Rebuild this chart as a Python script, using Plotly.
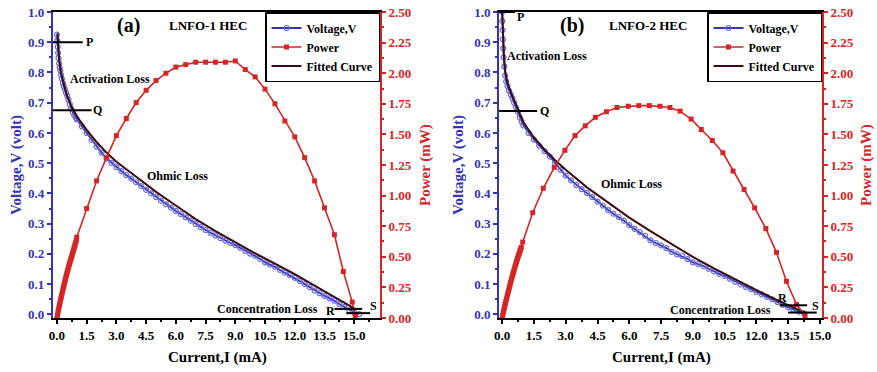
import plotly.graph_objects as go

# ---------------- data: panel (a) LNFO-1 HEC ----------------
a_current_v = [0.00, 0.02, 0.04, 0.06, 0.08, 0.11, 0.14, 0.17, 0.21, 0.25, 0.30, 0.35, 0.40, 0.46,
               0.52, 0.58, 0.65, 0.72, 0.80, 0.88, 0.96,
               1.00, 1.25, 1.50, 1.75, 2.00, 2.25, 2.50, 2.75, 3.00, 3.25, 3.50, 3.75, 4.00, 4.25,
               4.50, 4.75, 5.00, 5.25, 5.50, 5.75, 6.00, 6.25, 6.50, 6.75, 7.00, 7.25, 7.50, 7.75,
               8.00, 8.25, 8.50, 8.75, 9.00, 9.25, 9.50, 9.75, 10.00, 10.25, 10.50, 10.75, 11.00,
               11.25, 11.50, 11.75, 12.00, 12.25, 12.50, 12.75, 13.00, 13.25, 13.50, 13.75, 14.00,
               14.25, 14.50, 14.75, 15.00, 15.25]
a_voltage = [0.925, 0.905, 0.885, 0.865, 0.848, 0.830, 0.817, 0.806, 0.792, 0.779, 0.765, 0.754,
             0.744, 0.733, 0.722, 0.710, 0.695, 0.680, 0.668, 0.658, 0.650,
             0.645, 0.622, 0.600, 0.577, 0.555, 0.535, 0.516, 0.501, 0.487, 0.474, 0.461, 0.449,
             0.437, 0.424, 0.412, 0.400, 0.388, 0.376, 0.364, 0.353, 0.342, 0.332, 0.321, 0.310,
             0.299, 0.289, 0.279, 0.270, 0.261, 0.252, 0.244, 0.236, 0.229, 0.220, 0.210, 0.201,
             0.194, 0.184, 0.172, 0.165, 0.157, 0.147, 0.138, 0.130, 0.121, 0.110, 0.100, 0.090,
             0.079, 0.070, 0.061, 0.053, 0.045, 0.034, 0.024, 0.014, 0.006, 0.001]

a_current_p = [0.000, 0.025, 0.050, 0.075, 0.100, 0.125, 0.150, 0.175, 0.200, 0.225, 0.250,
               0.275, 0.300, 0.325, 0.350, 0.375, 0.400, 0.425, 0.450, 0.475, 0.500, 0.525,
               0.550, 0.575, 0.600, 0.625, 0.650, 0.675, 0.700, 0.725, 0.750, 0.775, 0.800,
               0.825, 0.850, 0.875, 0.900, 0.925, 0.950, 0.975,
               1.0, 1.5, 2.0, 2.5, 3.0, 3.5, 4.0, 4.5, 5.0, 5.5, 6.0, 6.5, 7.0, 7.5, 8.0, 8.5, 9.0,
               9.5, 10.0, 10.5, 11.0, 11.5, 12.0, 12.5, 13.0, 13.5, 14.0, 14.45, 14.9, 15.05]
a_power = [0.000, 0.023, 0.044, 0.064, 0.084, 0.103, 0.122, 0.141, 0.159, 0.177, 0.195, 0.212,
           0.230, 0.247, 0.264, 0.281, 0.298, 0.314, 0.331, 0.347, 0.363, 0.379, 0.394, 0.409,
           0.424, 0.438, 0.452, 0.466, 0.479, 0.493, 0.507, 0.521, 0.534, 0.549, 0.563, 0.577,
           0.590, 0.604, 0.619, 0.632,
           0.66, 0.895, 1.12, 1.31, 1.49, 1.63, 1.76, 1.86, 1.94, 2.00, 2.05, 2.07, 2.09, 2.09,
           2.09, 2.09, 2.10, 2.03, 1.97, 1.87, 1.75, 1.61, 1.48, 1.31, 1.12, 0.90, 0.68, 0.38,
           0.13, 0.02]

a_current_fit = [0.03, 0.10, 0.20, 0.35, 0.50, 0.75, 1.0, 1.5, 2.0, 2.5, 3.0, 4.0, 5.0, 6.0, 7.0,
                 8.0, 9.0, 10.0, 11.0, 12.0, 13.0, 14.0, 14.6, 15.0]
a_fit = [0.93, 0.85, 0.80, 0.76, 0.725, 0.685, 0.655, 0.61, 0.57, 0.535, 0.505, 0.455, 0.405,
         0.36, 0.315, 0.275, 0.238, 0.202, 0.168, 0.133, 0.095, 0.057, 0.035, 0.02]

# ---------------- data: panel (b) LNFO-2 HEC ----------------
b_current_v = [0.00, 0.01, 0.02, 0.03, 0.05, 0.07, 0.10, 0.14, 0.19, 0.25, 0.32, 0.40, 0.48, 0.56,
               0.65, 0.74, 0.83, 0.92,
               1.00, 1.25, 1.50, 1.75, 2.00, 2.25, 2.50, 2.75, 3.00, 3.25, 3.50, 3.75, 4.00, 4.25,
               4.50, 4.75, 5.00, 5.25, 5.50, 5.75, 6.00, 6.25, 6.50, 6.75, 7.00, 7.25, 7.50, 7.75,
               8.00, 8.25, 8.50, 8.75, 9.00, 9.25, 9.50, 9.75, 10.00, 10.25, 10.50, 10.75, 11.00,
               11.25, 11.50, 11.75, 12.00, 12.25, 12.50, 12.75, 13.00, 13.25, 13.50, 13.75, 14.00,
               14.25]
b_voltage = [1.00, 0.97, 0.94, 0.91, 0.88, 0.85, 0.82, 0.79, 0.77, 0.755, 0.74, 0.728, 0.715, 0.70,
             0.685, 0.67, 0.652, 0.638,
             0.625, 0.600, 0.578, 0.558, 0.540, 0.522, 0.500, 0.478, 0.459, 0.443, 0.428, 0.414,
             0.401, 0.388, 0.373, 0.360, 0.345, 0.333, 0.322, 0.310, 0.295, 0.283, 0.272, 0.260,
             0.245, 0.236, 0.228, 0.219, 0.207, 0.199, 0.193, 0.183, 0.172, 0.166, 0.160, 0.151,
             0.142, 0.134, 0.127, 0.118, 0.108, 0.099, 0.091, 0.083, 0.074, 0.066, 0.058, 0.050,
             0.041, 0.032, 0.023, 0.016, 0.009, 0.003]

b_current_p = [0.000, 0.025, 0.050, 0.075, 0.100, 0.125, 0.150, 0.175, 0.200, 0.225, 0.250,
               0.275, 0.300, 0.325, 0.350, 0.375, 0.400, 0.425, 0.450, 0.475, 0.500, 0.525,
               0.550, 0.575, 0.600, 0.625, 0.650, 0.675, 0.700, 0.725, 0.750, 0.775, 0.800,
               0.825, 0.850, 0.875, 0.900,
               0.97, 1.44, 1.94, 2.46, 2.96, 3.44, 3.92, 4.40, 4.92, 5.42, 5.95, 6.45, 6.95, 7.45,
               7.92, 8.40, 8.92, 9.40, 9.92, 10.42, 10.90, 11.42, 11.92, 12.45, 12.95, 13.42,
               13.90, 14.30]
b_power = [0.000, 0.023, 0.044, 0.063, 0.082, 0.100, 0.118, 0.136, 0.154, 0.171, 0.189, 0.206,
           0.223, 0.240, 0.257, 0.275, 0.291, 0.308, 0.324, 0.340, 0.356, 0.371, 0.386, 0.401,
           0.416, 0.431, 0.445, 0.460, 0.474, 0.487, 0.501, 0.514, 0.526, 0.539, 0.552, 0.564,
           0.577,
           0.62, 0.86, 1.06, 1.23, 1.37, 1.49, 1.57, 1.64, 1.685, 1.72, 1.73, 1.735, 1.735, 1.73,
           1.72, 1.69, 1.625, 1.54, 1.45, 1.35, 1.20, 1.05, 0.90, 0.73, 0.536, 0.30, 0.11, 0.02]

b_current_fit = [0.0, 0.03, 0.08, 0.15, 0.25, 0.40, 0.60, 0.80, 1.0, 1.5, 2.0, 2.5, 3.0, 4.0, 5.0,
                 6.0, 7.0, 8.0, 9.0, 10.0, 11.0, 12.0, 13.0, 13.5, 14.0, 14.3]
b_fit = [1.0, 0.93, 0.86, 0.80, 0.765, 0.735, 0.70, 0.665, 0.635, 0.585, 0.545, 0.51, 0.478, 0.42,
         0.37, 0.32, 0.275, 0.232, 0.19, 0.152, 0.115, 0.08, 0.046, 0.03, 0.015, 0.006]

# tick values
volt_ticks = [0.0, 0.1, 0.2, 0.3, 0.4, 0.5, 0.6, 0.7, 0.8, 0.9, 1.0]
power_ticks = [0.0, 0.25, 0.5, 0.75, 1.0, 1.25, 1.5, 1.75, 2.0, 2.25, 2.5]

BLUE = "#3434b4"
RED = "#d42626"
FIT = "#3c0c10"
FONT = "Liberation Serif"

fig = go.Figure()


def add_panel(xa, ya, ya2, legend, cur_v, volt, cur_p, powr, cur_f, fit):
    fig.add_trace(go.Scatter(
        x=cur_v, y=volt, name="Voltage,V", mode="lines+markers", xaxis=xa, yaxis=ya,
        line=dict(color=BLUE, width=1.8),
        marker=dict(symbol="circle-open", size=5, color="#6a6ad6", line=dict(width=1.2)),
        legend=legend))
    fig.add_trace(go.Scatter(
        x=cur_p, y=powr, name="Power", mode="lines+markers", xaxis=xa, yaxis=ya2,
        line=dict(color=RED, width=1.6),
        marker=dict(symbol="square", size=5, color=RED),
        legend=legend))
    fig.add_trace(go.Scatter(
        x=cur_f, y=fit, name="Fitted Curve", mode="lines", xaxis=xa, yaxis=ya,
        line=dict(color=FIT, width=2), legend=legend))


# draw order: voltage, power, fit on each panel
add_panel("x", "y", "y2", "legend", a_current_v, a_voltage, a_current_p, a_power,
          a_current_fit, a_fit)
add_panel("x2", "y3", "y4", "legend2", b_current_v, b_voltage, b_current_p, b_power,
          b_current_fit, b_fit)

# plot-area domains
Y_DOM = [0.1452, 0.9677]
XA_DOM = [0.0604, 0.4333]
XB_DOM = [0.569, 0.9373]

tickfont_b = dict(family=FONT, size=13, color=BLUE, weight="bold")
tickfont_r = dict(family=FONT, size=13, color=RED, weight="bold")
tickfont_k = dict(family=FONT, size=13, color="black", weight="bold")


def xaxis_cfg(dom, rng, anchor):
    return dict(domain=dom, range=rng, anchor=anchor, tick0=0, dtick=1.5, tickformat=".1f",
                showline=True, linecolor="black", linewidth=2, mirror=True,
                ticks="outside", ticklen=4, tickwidth=1.5, tickcolor="black",
                minor=dict(dtick=0.75, ticks="outside", ticklen=2, tickcolor="black"),
                showgrid=False, zeroline=False, tickfont=tickfont_k, automargin=False)


def yleft_cfg(anchor):
    return dict(domain=Y_DOM, anchor=anchor, range=[-0.012, 1.0], tickvals=volt_ticks,
                tickformat=".1f", showline=True, linecolor=BLUE, linewidth=2,
                ticks="outside", ticklen=4, tickwidth=1.5, tickcolor=BLUE,
                minor=dict(dtick=0.05, ticks="outside", ticklen=2, tickcolor=BLUE),
                showgrid=False, zeroline=False, tickfont=tickfont_b, automargin=False)


def yright_cfg(anchor, over):
    return dict(anchor=anchor, overlaying=over, side="right", range=[0, 2.5],
                tickvals=power_ticks, tickformat=".2f", showline=True, linecolor=RED,
                linewidth=2, ticks="outside", ticklen=4, tickwidth=1.5, tickcolor=RED,
                minor=dict(dtick=0.125, ticks="outside", ticklen=2, tickcolor=RED),
                showgrid=False, zeroline=False, tickfont=tickfont_r, automargin=False)


leg_common = dict(xanchor="right", yanchor="top", bgcolor="white", bordercolor="black",
                  borderwidth=1.5, font=dict(family=FONT, size=12, color="black", weight="bold"),
                  tracegroupgap=0, itemwidth=30)

fig.update_layout(
    width=877, height=372, margin=dict(l=0, r=0, t=0, b=0, autoexpand=False),
    paper_bgcolor="white", plot_bgcolor="white", showlegend=True,
    xaxis=xaxis_cfg(XA_DOM, [-0.2, 16.3], "y"),
    yaxis=yleft_cfg("x"),
    yaxis2=yright_cfg("x", "y"),
    xaxis2=xaxis_cfg(XB_DOM, [-0.15, 15.1], "y3"),
    yaxis3=yleft_cfg("x2"),
    yaxis4=yright_cfg("x2", "y3"),
    legend=dict(leg_common, x=XA_DOM[1], y=Y_DOM[1]),
    legend2=dict(leg_common, x=XB_DOM[1], y=Y_DOM[1]),
)

# loss-region markers (P, Q, R, S) on both panels
marks = [
    # xref, yref, x0, x1, y
    ("x", "y", -0.2, 1.3, 0.90), ("x", "y", -0.2, 1.75, 0.675),
    ("x", "y", 14.0, 15.4, 0.018), ("x", "y", 14.6, 15.8, 0.004),
    ("x2", "y3", -0.15, 0.6, 1.0), ("x2", "y3", -0.15, 1.65, 0.673),
    ("x2", "y3", 13.1, 14.4, 0.030), ("x2", "y3", 13.5, 14.85, 0.006),
]
for xr, yr, x0, x1, yv in marks:
    fig.add_shape(type="line", xref=xr, yref=yr, x0=x0, x1=x1, y0=yv, y1=yv,
                  line=dict(color="black", width=2))

lbl = dict(family=FONT, size=12, color="black", weight="bold")
texts = [
    ("x", "y", 1.65, 0.90, "P"), ("x", "y", 2.05, 0.675, "Q"),
    ("x", "y", 13.8, 0.012, "R"), ("x", "y", 15.95, 0.026, "S"),
    ("x", "y", 2.7, 0.78, "Activation Loss"), ("x", "y", 6.1, 0.457, "Ohmic Loss"),
    ("x", "y", 10.6, 0.018, "Concentration Loss"),
    ("x2", "y3", 0.85, 0.982, "P"), ("x2", "y3", 2.0, 0.673, "Q"),
    ("x2", "y3", 13.25, 0.055, "R"), ("x2", "y3", 14.8, 0.027, "S"),
    ("x2", "y3", 2.1, 0.855, "Activation Loss"), ("x2", "y3", 6.1, 0.43, "Ohmic Loss"),
    ("x2", "y3", 10.3, 0.015, "Concentration Loss"),
]
for xr, yr, xv, yv, t in texts:
    fig.add_annotation(xref=xr, yref=yr, x=xv, y=yv, text=t, showarrow=False, font=lbl,
                       xanchor="center", yanchor="middle")

# panel tags and sample names
for xr, yr, xv, t, nm, xn in [("x", "y", 3.6, "(a)", "LNFO-1 HEC", 7.6),
                              ("x2", "y3", 3.3, "(b)", "LNFO-2 HEC", 6.9)]:
    fig.add_annotation(xref=xr, yref=yr, x=xv, y=0.957, text=t, showarrow=False,
                       xanchor="center", yanchor="middle",
                       font=dict(family=FONT, size=20, color="black", weight="bold"))
    fig.add_annotation(xref=xr, yref=yr, x=xn, y=0.957, text=nm, showarrow=False,
                       xanchor="center", yanchor="middle",
                       font=dict(family=FONT, size=13, color="black", weight="bold"))

# axis titles
ttl = dict(family=FONT, size=15, weight="bold")
for xp, t, col in [(16, "Voltage,V (volt)", BLUE), (458, "Voltage,V (volt)", BLUE),
                   (425, "Power (mW)", RED), (866, "Power (mW)", RED)]:
    fig.add_annotation(xref="paper", yref="paper", x=xp / 877, y=(372 - 165) / 372,
                       text=t, textangle=-90, showarrow=False, font=dict(ttl, color=col),
                       xanchor="center", yanchor="middle")
for xp in [217, 661]:
    fig.add_annotation(xref="paper", yref="paper", x=xp / 877, y=(372 - 357) / 372,
                       text="Current,I (mA)", showarrow=False, font=dict(ttl, color="black"),
                       xanchor="center", yanchor="middle")

fig.write_html("out.html")
